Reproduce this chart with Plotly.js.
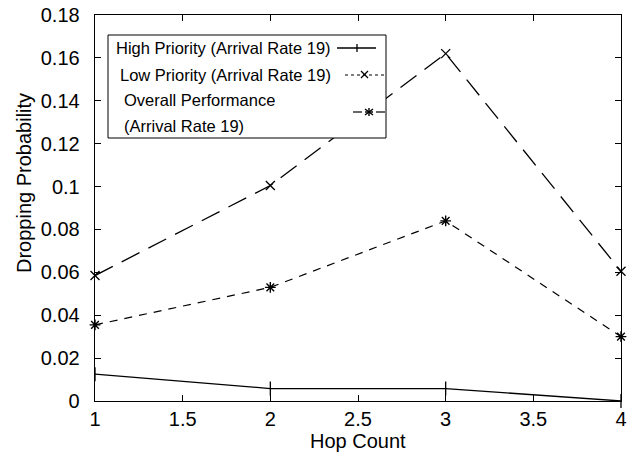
<!DOCTYPE html>
<html><head><meta charset="utf-8">
<script src="https://cdn.plot.ly/plotly-3.0.1.min.js"></script>
<style>body{margin:0;padding:0;background:#fff}#chart{width:636px;height:464px}</style>
</head><body><div id="chart"></div>
<script>
// ---- data ----
const hopCount = [1, 2, 3, 4];
const highPriority = [0.0125, 0.0058, 0.0058, 0.0];
const lowPriority = [0.0585, 0.1005, 0.162, 0.0605];
const overall = [0.0355, 0.053, 0.084, 0.030];
const seriesNames = ['High Priority (Arrival Rate 19)', 'Low Priority (Arrival Rate 19)', 'Overall Performance', '(Arrival Rate 19)'];
const yTicks = [0, 0.02, 0.04, 0.06, 0.08, 0.1, 0.12, 0.14, 0.16, 0.18];
const xTicks = [1, 1.5, 2, 2.5, 3, 3.5, 4];
const xTitle = 'Hop Count';
const yTitle = 'Dropping Probability';

const W = 636, H = 464;
const L = 95, R = 621, T = 15, B = 401;
const px = x => (x - L) / (R - L);
const py = y => (B - y) / (B - T);
const font = 'Liberation Sans, Arial, sans-serif';

const traces = [
  {x: hopCount, y: highPriority, mode: 'lines+markers', line: {color: '#000', width: 1.3},
   marker: {symbol: 'line-ns-open', size: 10, line: {color: '#000', width: 1.3}}, showlegend: false, cliponaxis: false},
  {x: hopCount, y: lowPriority, mode: 'lines+markers', line: {color: '#000', width: 1.3, dash: '20px,10px'},
   marker: {symbol: 'x-thin-open', size: 9, line: {color: '#000', width: 1.3}}, showlegend: false, cliponaxis: false},
  {x: hopCount, y: overall, mode: 'lines+markers', line: {color: '#000', width: 1.2, dash: '8px,7px'},
   marker: {symbol: 'asterisk-open', size: 9, line: {color: '#000', width: 1.4}}, showlegend: false, cliponaxis: false}
];

function seg(x0, y0, x1, y1, w, dash) {
  return {type: 'line', xref: 'paper', yref: 'paper', x0: px(x0), x1: px(x1), y0: py(y0), y1: py(y1),
    line: {color: '#000', width: w || 1.2, dash: dash || 'solid'}, layer: 'above'};
}
const shapes = [
  {type: 'rect', xref: 'paper', yref: 'paper', x0: px(108), x1: px(386), y0: py(35), y1: py(138), line: {color: '#000', width: 1}, fillcolor: '#fff', layer: 'above'},
  // row 1: solid line with +
  seg(337, 48, 376, 48, 1.3), seg(357, 44, 357, 52, 1.3),
  // row 2: dotted with x
  seg(345, 75, 384, 75, 1.2, '3px,3px'), seg(361, 71, 368, 78, 1.3), seg(361, 78, 368, 71, 1.3),
  // row 3: dashed with *
  seg(353, 112, 362, 112, 1.2), seg(376, 112, 385, 112, 1.2),
  seg(369, 108, 369, 116, 1.4), seg(365, 109, 373, 115, 1.4), seg(365, 115, 373, 109, 1.4), seg(365, 112, 373, 112, 1.4)
];

const legRows = [[114, 48], [118, 75], [122, 100], [122, 126]];
const annotations = seriesNames.map((t, i) => ({
  text: t, xref: 'paper', yref: 'paper', x: px(legRows[i][0]), y: py(legRows[i][1]),
  xanchor: 'left', yanchor: 'middle', showarrow: false, font: {family: font, size: 16.5, color: '#000'}
}));
annotations.push({text: xTitle, xref: 'paper', yref: 'paper', x: px(358), y: py(441), xanchor: 'center', yanchor: 'middle',
  showarrow: false, font: {family: font, size: 20, color: '#000'}});
annotations.push({text: yTitle, xref: 'paper', yref: 'paper', x: px(24), y: py(183), xanchor: 'center', yanchor: 'middle',
  textangle: -90, showarrow: false, font: {family: font, size: 20, color: '#000'}});

const layout = {
  width: W, height: H,
  margin: {l: L, r: W - R, t: T, b: H - B},
  paper_bgcolor: '#fff', plot_bgcolor: '#fff',
  font: {family: font, size: 20, color: '#000'},
  showlegend: false,
  xaxis: {range: [1, 4], tickvals: xTicks, ticktext: xTicks.map(String), ticks: 'inside', ticklen: 6, tickcolor: '#000',
    showline: true, mirror: 'ticks', linecolor: '#000', linewidth: 1.3, showgrid: false, zeroline: false,
    tickfont: {size: 20}},
  yaxis: {range: [0, 0.18], tickvals: yTicks, ticktext: yTicks.map(String), ticks: 'inside', ticklen: 6, tickcolor: '#000',
    showline: true, mirror: 'ticks', linecolor: '#000', linewidth: 1.3, showgrid: false, zeroline: false,
    tickfont: {size: 20}, ticklabelstandoff: 10},
  shapes: shapes,
  annotations: annotations
};

Plotly.newPlot('chart', traces, layout, {displayModeBar: false, staticPlot: true});
</script></body></html>
